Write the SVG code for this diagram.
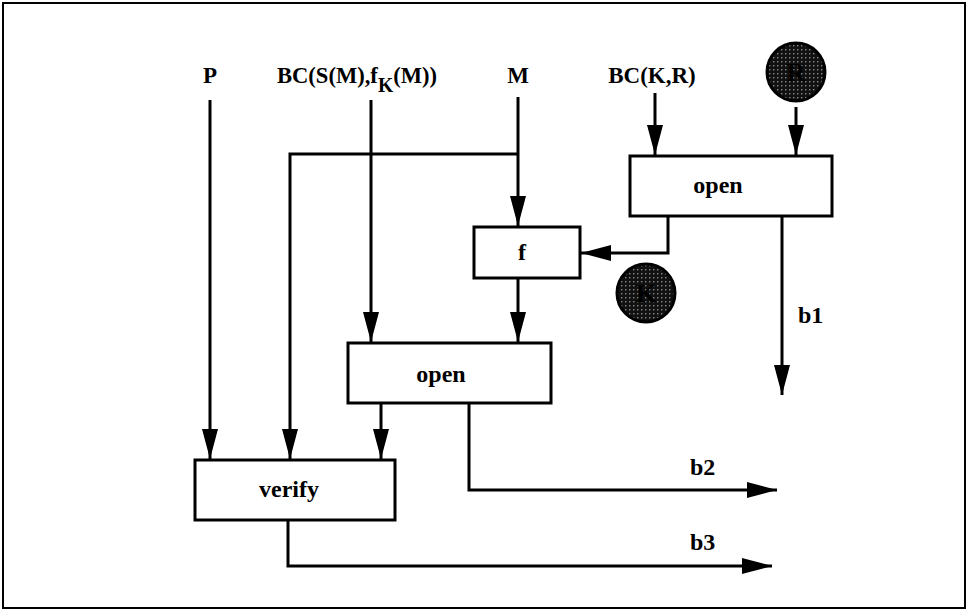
<svg xmlns="http://www.w3.org/2000/svg" width="968" height="612" viewBox="0 0 968 612">
<defs>
<style>
.box{fill:#fff;stroke:#000;stroke-width:3}
.ln{fill:none;stroke:#000;stroke-width:3}
.t{font-family:"Liberation Serif","Times New Roman",serif;font-weight:bold;font-size:24px;fill:#000}
.top{font-size:23px}
.sub{font-size:20px}
.dark{fill:url(#stip);stroke:#000;stroke-width:3}
.ct{font-family:"Liberation Serif","Times New Roman",serif;font-weight:bold;font-size:26px;fill:#000}
</style>
<pattern id="stip" width="4" height="4" patternUnits="userSpaceOnUse">
<rect width="4" height="4" fill="#111"/>
<rect x="1" y="1" width="1.4" height="1.4" fill="#888"/>
</pattern>
<marker id="ah" viewBox="0 0 30 16" refX="30" refY="8" markerWidth="30" markerHeight="16" markerUnits="userSpaceOnUse" orient="auto">
<path d="M0,0 L30,8 L0,16 Z" fill="#000"/>
</marker>
</defs>
<rect x="3" y="3" width="962" height="605" fill="#fff" stroke="#000" stroke-width="2"/>

<g id="labels">
<text class="t top" x="210" y="83" text-anchor="middle">P</text>
<text class="t top" x="277" y="83" textLength="160" lengthAdjust="spacingAndGlyphs">BC(S(M),f<tspan class="sub" dy="9">K</tspan><tspan dy="-9">(M))</tspan></text>
<text class="t top" x="518" y="83" text-anchor="middle">M</text>
<text class="t top" x="652" y="83" text-anchor="middle">BC(K,R)</text>
</g>

<g id="circleR">
<circle class="dark" cx="796" cy="72" r="29"/>
<text class="ct" x="796" y="81" text-anchor="middle">R</text>
</g>
<g id="circleK">
<circle class="dark" cx="646" cy="293" r="29"/>
<text class="ct" x="646" y="302" text-anchor="middle">K</text>
</g>

<g id="open1">
<rect class="box" x="630" y="156" width="202" height="60"/>
<text class="t" x="718" y="193" text-anchor="middle">open</text>
</g>
<g id="f">
<rect class="box" x="474" y="227" width="106" height="51"/>
<text class="t" x="522" y="260" text-anchor="middle">f</text>
</g>
<g id="open2">
<rect class="box" x="348" y="343" width="203" height="60"/>
<text class="t" x="441" y="382" text-anchor="middle">open</text>
</g>
<g id="verify">
<rect class="box" x="195" y="460" width="200" height="60"/>
<text class="t" x="289" y="497" text-anchor="middle">verify</text>
</g>

<g id="connectors">
<path class="ln" d="M210,100 V459" marker-end="url(#ah)"/>
<path class="ln" d="M371,100 V342" marker-end="url(#ah)"/>
<path class="ln" d="M518,97 V226" marker-end="url(#ah)"/>
<path class="ln" d="M518,154 H290 V459" marker-end="url(#ah)"/>
<path class="ln" d="M655,93 V155" marker-end="url(#ah)"/>
<path class="ln" d="M796,107 V155" marker-end="url(#ah)"/>
<path class="ln" d="M668,216 V253 H581" marker-end="url(#ah)"/>
<path class="ln" d="M782,216 V395" marker-end="url(#ah)"/>
<path class="ln" d="M518,278 V342" marker-end="url(#ah)"/>
<path class="ln" d="M381,403 V459" marker-end="url(#ah)"/>
<path class="ln" d="M469,403 V490 H777" marker-end="url(#ah)"/>
<path class="ln" d="M288,520 V566 H772" marker-end="url(#ah)"/>
</g>

<g id="outlabels">
<text class="t" x="798" y="323">b1</text>
<text class="t" x="690" y="475">b2</text>
<text class="t" x="690" y="550">b3</text>
</g>
</svg>
